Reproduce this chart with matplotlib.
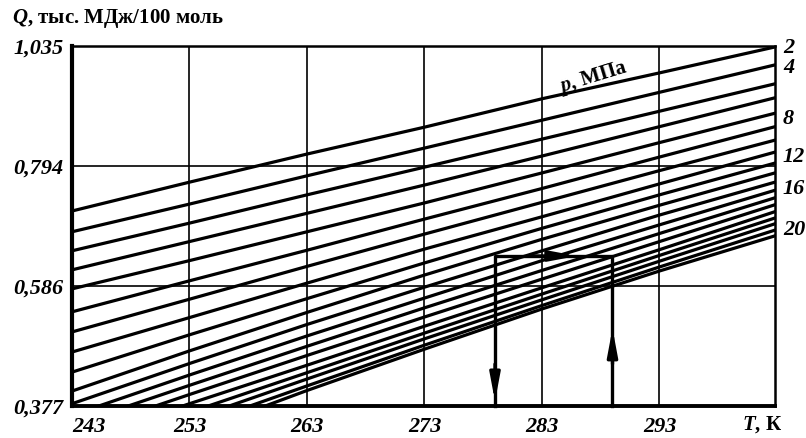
import numpy as np
import matplotlib
matplotlib.use('Agg')
import matplotlib.pyplot as plt

plt.rcParams['mathtext.fontset'] = 'custom'
plt.rcParams['mathtext.it'] = 'Liberation Serif:bold:italic'
plt.rcParams['mathtext.rm'] = 'Liberation Serif:bold'
plt.rcParams['mathtext.bf'] = 'Liberation Serif:bold'

# temperature points, K
T = [243, 253, 263, 273, 283, 293, 303]

# Q values (thousand MJ / 100 mol), one list per pressure
q_p2 = [0.716, 0.766, 0.818, 0.872, 0.929, 0.981, 1.034]
q_p3 = [0.680, 0.728, 0.777, 0.830, 0.886, 0.942, 0.998]
q_p4 = [0.647, 0.695, 0.744, 0.792, 0.848, 0.904, 0.960]
q_p5 = [0.614, 0.663, 0.712, 0.761, 0.814, 0.873, 0.932]
q_p6 = [0.581, 0.630, 0.680, 0.730, 0.782, 0.841, 0.901]
q_p7 = [0.541, 0.595, 0.648, 0.702, 0.755, 0.812, 0.874]
q_p8 = [0.506, 0.563, 0.620, 0.676, 0.731, 0.786, 0.847]
q_p9 = [0.471, 0.531, 0.591, 0.650, 0.706, 0.763, 0.823]
q_p10 = [0.436, 0.501, 0.564, 0.626, 0.686, 0.744, 0.801]
q_p11 = [0.403, 0.473, 0.540, 0.605, 0.667, 0.726, 0.783]
q_p12 = [0.381, 0.451, 0.519, 0.584, 0.647, 0.709, 0.767]
q_p13 = [0.361, 0.431, 0.499, 0.565, 0.630, 0.692, 0.753]
q_p14 = [0.344, 0.413, 0.481, 0.548, 0.613, 0.677, 0.740]
q_p15 = [0.328, 0.397, 0.465, 0.532, 0.598, 0.663, 0.728]
q_p16 = [0.313, 0.381, 0.448, 0.516, 0.583, 0.649, 0.716]
q_p17 = [0.295, 0.366, 0.435, 0.504, 0.572, 0.639, 0.705]
q_p18 = [0.281, 0.353, 0.424, 0.494, 0.562, 0.629, 0.695]
q_p19 = [0.266, 0.340, 0.412, 0.483, 0.552, 0.619, 0.684]
q_p20 = [0.248, 0.328, 0.404, 0.476, 0.546, 0.612, 0.674]
curves = [q_p2, q_p3, q_p4, q_p5, q_p6, q_p7, q_p8, q_p9, q_p10, q_p11,
          q_p12, q_p13, q_p14, q_p15, q_p16, q_p17, q_p18, q_p19, q_p20]

# pressure labels on the right and where they sit
p_labels = ['2', '4', '8', '12', '16', '20']
p_label_q = [1.030, 0.990, 0.889, 0.813, 0.754, 0.683]

# y ticks (evenly spaced on the original chart)
q_ticks = [0.377, 0.586, 0.794, 1.035]
q_tick_labels = ['0,377', '0,586', '0,794', '1,035']
t_ticks = [243, 253, 263, 273, 283, 293]

# example path: 279 K -> 289 K at Q = 0.638
path_T = [279, 279, 289, 289]
path_Q = [0.377, 0.638, 0.638, 0.377]

u_ticks = np.arange(len(q_ticks), dtype=float)


def q_to_u(q):
    q = np.asarray(q, dtype=float)
    u = np.interp(q, q_ticks, u_ticks)
    u = np.where(q < q_ticks[0], (q - q_ticks[0]) / (q_ticks[1] - q_ticks[0]), u)
    u = np.where(q > q_ticks[-1], 3 + (q - q_ticks[-1]) / (q_ticks[-1] - q_ticks[-2]), u)
    return u


def u_to_q(u):
    u = np.asarray(u, dtype=float)
    q = np.interp(u, u_ticks, q_ticks)
    q = np.where(u < 0, q_ticks[0] + u * (q_ticks[1] - q_ticks[0]), q)
    q = np.where(u > 3, q_ticks[-1] + (u - 3) * (q_ticks[-1] - q_ticks[-2]), q)
    return q


serif = ['Liberation Serif', 'DejaVu Serif']
font = dict(family=serif, weight='bold', style='italic', size=16)

fig = plt.figure(figsize=(8.06, 4.38), dpi=100)
ax = fig.add_axes([72 / 806, 32 / 438, 703 / 806, 360 / 438])
ax.set_yscale('function', functions=(q_to_u, u_to_q))

for q in curves:
    ax.plot(T, q, color='black', lw=2.3, solid_capstyle='butt', solid_joinstyle='round')

ax.set_xlim(243, 302.83)
ax.set_ylim(q_ticks[0], q_ticks[-1])

ax.set_yticks(q_ticks)
ax.set_yticklabels(q_tick_labels, **font)
ax.set_xticks(t_ticks)
ax.set_xticklabels([str(t) for t in t_ticks], **font)
ax.yaxis.set_minor_locator(matplotlib.ticker.NullLocator())
ax.tick_params(length=0)
ax.tick_params(axis='y', pad=6)
ax.tick_params(axis='x', pad=8)
ax.get_xticklabels()[0].set_horizontalalignment('left')
ax.grid(True, color='black', lw=1.2)

for side, w in [('left', 3.0), ('bottom', 2.8), ('top', 1.8), ('right', 1.8)]:
    ax.spines[side].set_linewidth(w)
    ax.spines[side].set_zorder(5)

# path with arrows
ax.plot(path_T, path_Q, color='black', lw=2.4, clip_on=False)
arrow = dict(arrowstyle='-|>,head_length=1.6,head_width=0.3', color='black', lw=2.4,
             shrinkA=0, shrinkB=0)
ax.annotate('', xy=(279, 0.385), xytext=(279, 0.45), arrowprops=arrow)
ax.annotate('', xy=(289, 0.512), xytext=(289, 0.45), arrowprops=arrow)
ax.annotate('', xy=(286.0, 0.638), xytext=(282, 0.638), arrowprops=arrow)

# pressure labels
for lab, q in zip(p_labels, p_label_q):
    ax.text(303.5, q, lab, ha='left', va='center', clip_on=False, **font)

ax.text(287.4, 0.971, '$p$, МПа', rotation=17, ha='center', va='center',
        family=serif, weight='bold', size=15)

fig.text(12 / 806, 1 - 18 / 438, '$Q$, тыс. МДж/100 моль', ha='left', va='center',
         family=serif, weight='bold', size=15)
fig.text(742 / 806, 1 - 425 / 438, '$T$, К', ha='left', va='center',
         family=serif, weight='bold', size=15)

fig.savefig('out.png', dpi=100)
